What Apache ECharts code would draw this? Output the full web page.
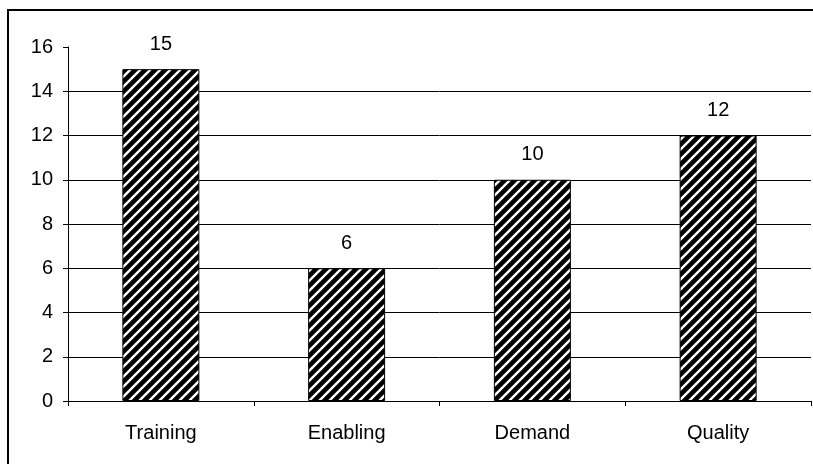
<!DOCTYPE html>
<html>
<head>
<meta charset="utf-8">
<script src="https://cdn.jsdelivr.net/npm/echarts@6/dist/echarts.min.js"></script>
<style>
  html, body { margin: 0; padding: 0; background: #fff; overflow: hidden; }
  #chart { width: 813px; height: 464px; }
</style>
</head>
<body>
<div id="chart"></div>
<script>
// Chart data
const categories = ['Training', 'Enabling', 'Demand', 'Quality'];
const counts = [15, 6, 10, 12];
const yTicks = [0, 2, 4, 6, 8, 10, 12, 14, 16];

// Diagonal hatch fill (black with white "/" stripes)
function hatchPattern() {
  const p = 10;
  const c = document.createElement('canvas');
  c.width = p; c.height = p;
  const g = c.getContext('2d');
  g.fillStyle = '#000';
  g.fillRect(0, 0, p, p);
  g.strokeStyle = '#fff';
  g.lineWidth = 2.4;
  g.beginPath();
  g.moveTo(0, p); g.lineTo(p, 0);
  g.moveTo(-p / 2, p / 2); g.lineTo(p / 2, -p / 2);
  g.moveTo(p / 2, p * 1.5); g.lineTo(p * 1.5, p / 2);
  g.stroke();
  return c;
}

const chart = echarts.init(document.getElementById('chart'), null, { renderer: 'canvas' });
const fontFamily = '"Liberation Sans", Arial, sans-serif';

// Grid lines on every tick except the top one
const gridColors = yTicks.map((v, i) => (i === yTicks.length - 1 ? 'rgba(0,0,0,0)' : '#000'));

chart.setOption({
  animation: false,
  backgroundColor: '#fff',
  textStyle: { fontFamily: fontFamily },
  // Outer frame: only its top and left edges fall inside the canvas
  graphic: [
    { type: 'line', shape: { x1: 7, y1: 10, x2: 813, y2: 10 }, style: { stroke: '#000', lineWidth: 2 }, silent: true },
    { type: 'line', shape: { x1: 8, y1: 9, x2: 8, y2: 464 }, style: { stroke: '#000', lineWidth: 2 }, silent: true }
  ],
  grid: { left: 68, right: 2, top: 47, bottom: 63, containLabel: false },
  xAxis: {
    type: 'category',
    data: categories,
    boundaryGap: true,
    axisLine: { show: true, lineStyle: { color: '#000', width: 1 } },
    axisTick: { show: true, length: 5, inside: false, lineStyle: { color: '#000' } },
    axisLabel: { color: '#000', fontSize: 20, margin: 22, fontFamily: fontFamily },
    splitLine: { show: false }
  },
  yAxis: {
    type: 'value',
    min: 0,
    max: 16,
    interval: 2,
    axisLine: { show: true, lineStyle: { color: '#000', width: 1 } },
    axisTick: { show: true, length: 5, lineStyle: { color: '#000' } },
    axisLabel: { color: '#000', fontSize: 20, margin: 15, fontFamily: fontFamily },
    splitLine: { show: true, lineStyle: { color: gridColors, width: 1 } }
  },
  series: [{
    type: 'bar',
    data: counts,
    barWidth: 77,
    itemStyle: {
      color: { image: hatchPattern(), repeat: 'repeat' },
      borderColor: '#000',
      borderWidth: 1
    },
    label: {
      show: true,
      position: 'top',
      distance: 15,
      color: '#000',
      fontSize: 20,
      fontFamily: fontFamily
    }
  }]
});
</script>
</body>
</html>
